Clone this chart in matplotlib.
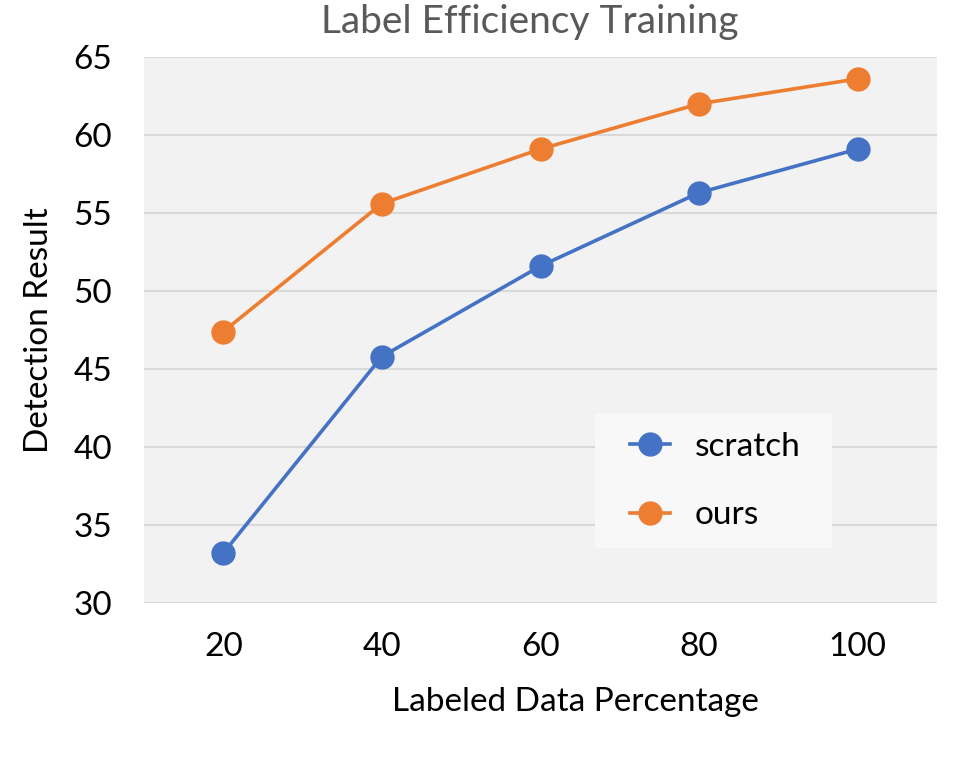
import matplotlib
matplotlib.use("Agg")
import matplotlib.pyplot as plt
from matplotlib.patches import Rectangle

x_vals = [20, 40, 60, 80, 100]
scratch = [33.2, 45.8, 51.6, 56.3, 59.1]
ours = [47.4, 55.6, 59.1, 62.0, 63.6]
y_ticks = [30, 35, 40, 45, 50, 55, 60, 65]

plt.rcParams['font.family'] = ['Lato', 'DejaVu Sans']

W, H = 957, 782
L, R, T, B = 144, 937, 57, 603
fig = plt.figure(figsize=(W/100, H/100), dpi=100)
ax = fig.add_axes([L/W, 1-B/H, (R-L)/W, (B-T)/H])
ax.set_facecolor('#f2f2f2')

ax.plot(x_vals, scratch, color='#4472C4', lw=2.6, marker='o', ms=16.5, label='scratch', zorder=3)
ax.plot(x_vals, ours, color='#ED7D31', lw=2.6, marker='o', ms=16.5, label='ours', zorder=3)

ax.set_xlim(10, 110)
ax.set_ylim(30, 65)
ax.set_xticks(x_vals)
ax.set_yticks(y_ticks)
ax.tick_params(axis='both', length=0, labelsize=24, colors='black')
ax.tick_params(axis='x', pad=21)
ax.tick_params(axis='y', pad=23)
ax.grid(axis='y', color='#d9d9d9', lw=1.5, zorder=0)
ax.set_axisbelow(True)
for s in ax.spines.values():
    s.set_visible(False)

ax.set_ylabel('Detection Result', fontsize=24, labelpad=14)
fig.text(575/W, 1-702/H, 'Labeled Data Percentage', ha='center', va='center', fontsize=24)
fig.text(530/W, 1-22/H, 'Label Efficiency Training', ha='center', va='center',
         fontsize=28, color='#595959')

def ax_frac(px, py):
    return ((px-L)/(R-L), (B-py)/(B-T))

x0, y0 = ax_frac(595, 548)
x1, y1 = ax_frac(832, 414)
ax.add_patch(Rectangle((x0, y0), x1-x0, y1-y0, transform=ax.transAxes,
                       facecolor='#f8f8f8', edgecolor='none', zorder=4))

ax_anchor = ax_frac(630, 481)
leg = ax.legend(loc='center left', bbox_to_anchor=ax_anchor,
                fontsize=24, frameon=False, handlelength=1.2,
                handletextpad=0.75, labelspacing=1.15, borderpad=0, borderaxespad=0)
leg.set_zorder(5)

fig.savefig('out.png', dpi=100, facecolor='white')
